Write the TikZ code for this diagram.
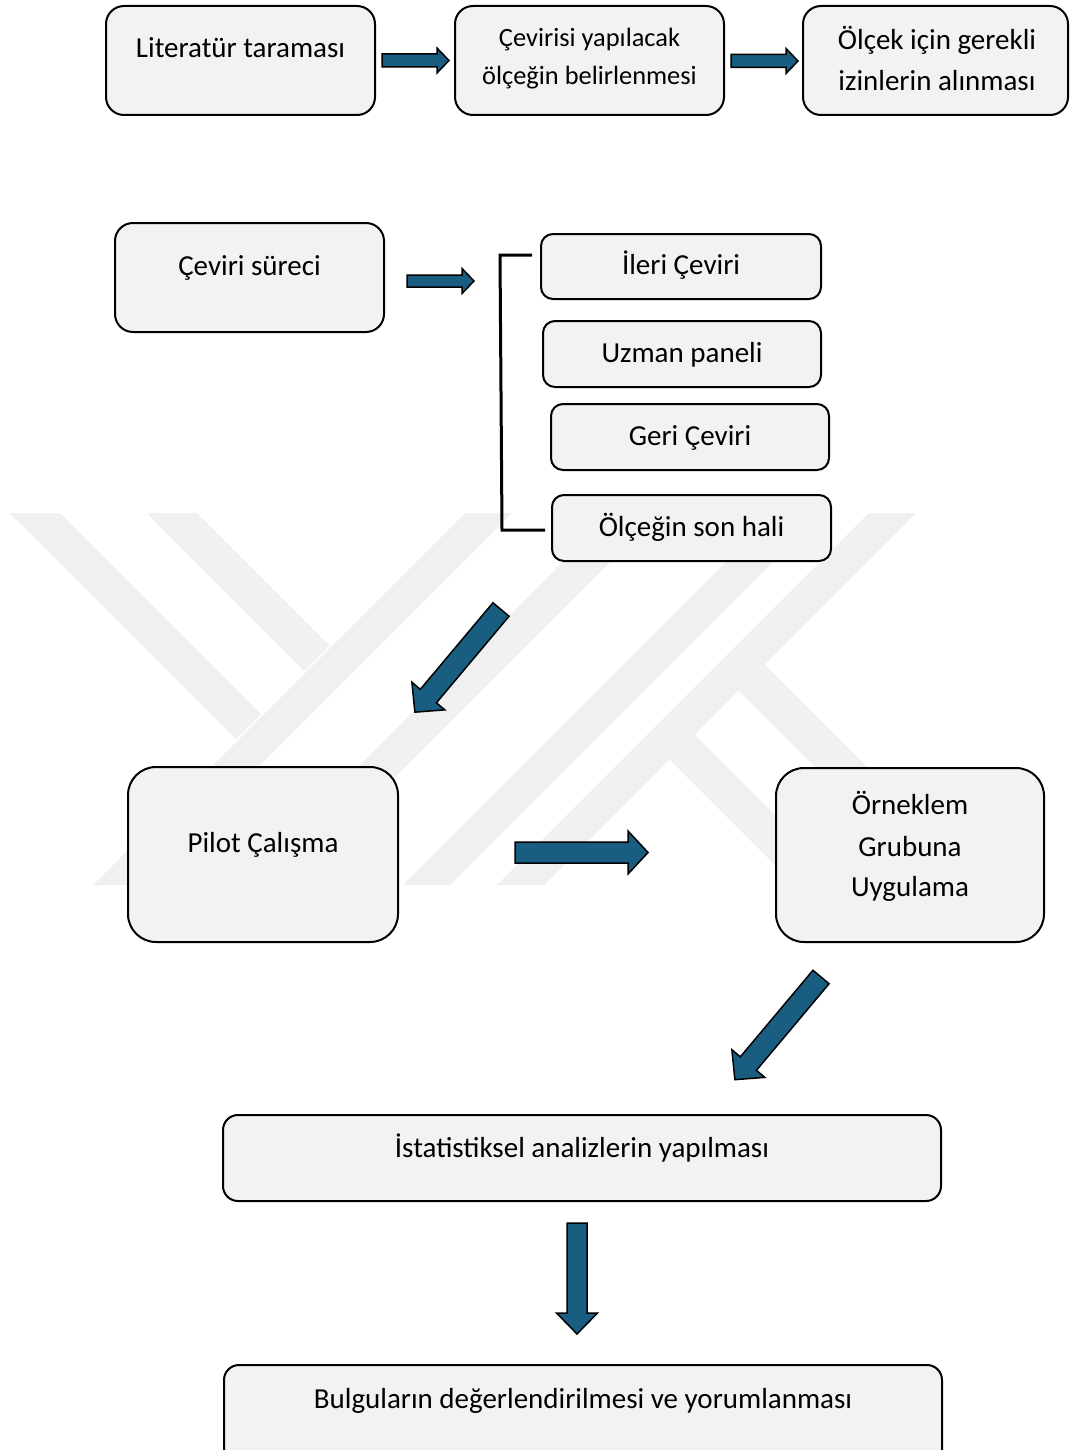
\documentclass[tikz,border=0pt]{standalone}
\usepackage{fontspec}
\setmainfont{Carlito}
\definecolor{boxfill}{RGB}{242,242,242}
\definecolor{wmgray}{RGB}{240,240,240}
\definecolor{arrowblue}{RGB}{25,94,128}
\tikzset{
  box/.style={draw=black, line width=2pt, fill=boxfill, rounded corners=#1, inner sep=0pt},
  box/.default=18pt,
  lbl/.style={font=\fontsize{29}{35}\selectfont, text height=19pt, text depth=0pt, inner sep=0pt, anchor=center},
  lblsmall/.style={font=\fontsize{26.4}{32}\selectfont, text height=17pt, text depth=0pt, inner sep=0pt, anchor=center},
  blockarrow/.style={draw=black, line width=1.5pt, fill=arrowblue, line join=miter},
  bracketline/.style={draw=black, line width=3pt},
  watermark/.style={fill=wmgray, draw=none}
}
% tail x, tail y, angle, total length, shaft width, head width, head length
\newcommand{\myblockarrow}[7]{%
  \draw[blockarrow, shift={(#1,#2)}, rotate=#3]
    (0,-#5/2) -- ({#4-#7},-#5/2) -- ({#4-#7},-#6/2) -- (#4,0) -- ({#4-#7},#6/2) -- ({#4-#7},#5/2) -- (0,#5/2) -- cycle;}
\begin{document}
\begin{tikzpicture}[x=1pt,y=-1pt]
\useasboundingbox (0,0) rectangle (1070,1450);
\clip (0,0) rectangle (1070,1450);
\fill[white] (0,0) rectangle (1070,1450);

% watermark (background logo)
\fill[watermark] (10,513) -- (60,513) -- (261,714) -- (236,739) -- cycle;
\fill[watermark] (147,513) -- (197,513) -- (329.5,645.5) -- (304.5,670.5) -- cycle;
\fill[watermark] (465,513) -- (512,513) -- (140,885) -- (93,885) -- cycle;
\fill[watermark] (612,513) -- (659,513) -- (287,885) -- (240,885) -- cycle;
\fill[watermark] (775,513) -- (822,513) -- (450,885) -- (403,885) -- cycle;
\fill[watermark] (869,513) -- (916,513) -- (544,885) -- (497,885) -- cycle;
\fill[watermark] (764.5,664.5) -- (985,885) -- (933,885) -- (738.5,690.5) -- cycle;
\fill[watermark] (694.5,734.5) -- (845,885) -- (795,885) -- (669.5,759.5) -- cycle;

% boxes
\node[box, minimum width=269pt, minimum height=109pt] (lit) at (240.5,60.5) {};
\node[lbl] (litT) at (240.5,48) {Literatür taraması};

\node[box, minimum width=269pt, minimum height=109pt] (cev) at (589.5,60.5) {};
\node[lblsmall] (cevT1) at (589.5,38) {Çevirisi yapılacak};
\node[lblsmall] (cevT2) at (589.5,76) {ölçeğin belirlenmesi};

\node[box, minimum width=265pt, minimum height=109pt] (izin) at (935.5,60.5) {};
\node[lbl] (izinT1) at (937,40) {Ölçek için gerekli};
\node[lbl] (izinT2) at (937,81) {izinlerin alınması};

\node[box, minimum width=269pt, minimum height=109pt] (surec) at (249.5,277.5) {};
\node[lbl] (surecT) at (249.5,266) {Çeviri süreci};

\node[box=12pt, minimum width=280pt, minimum height=65pt] (ileri) at (681,266.5) {};
\node[lbl] (ileriT) at (681,265) {İleri Çeviri};

\node[box=12pt, minimum width=278pt, minimum height=66pt] (uzman) at (682,354) {};
\node[lbl] (uzmanT) at (682,353) {Uzman paneli};

\node[box=12pt, minimum width=278pt, minimum height=66pt] (geri) at (690,437) {};
\node[lbl] (geriT) at (690,436) {Geri Çeviri};

\node[box=12pt, minimum width=279pt, minimum height=66pt] (son) at (691.5,528) {};
\node[lbl] (sonT) at (691.5,527) {Ölçeğin son hali};

\node[box=28pt, minimum width=270pt, minimum height=175pt] (pilot) at (263,854.5) {};
\node[lbl] (pilotT) at (263,843) {Pilot Çalışma};

\node[box=28pt, minimum width=268pt, minimum height=174pt] (orn) at (910,855) {};
\node[lbl] (ornT1) at (910,805) {Örneklem};
\node[lbl] (ornT2) at (910,847) {Grubuna};
\node[lbl] (ornT3) at (910,887) {Uygulama};

\node[box=15pt, minimum width=718pt, minimum height=86pt] (ist) at (582,1158) {};
\node[lbl] (istT) at (582,1148) {İstatistiksel analizlerin yapılması};

\node[box=15pt, minimum width=718pt, minimum height=105pt] (bul) at (583,1417.5) {};
\node[lbl] (bulT) at (583,1399) {Bulguların değerlendirilmesi ve yorumlanması};

% bracket grouping the translation steps
\coordinate (brTop) at (532,255);
\coordinate (brBot) at (545,530);
\draw[bracketline] (brTop) -- (500,255) -- (502,530) -- (brBot);

% block arrows
\myblockarrow{382}{60.5}{0}{67}{13}{25}{12}
\myblockarrow{731}{61}{0}{67}{13}{25}{12}
\myblockarrow{407}{281}{0}{67}{12}{25}{12}
\myblockarrow{501}{609.5}{230}{134}{21}{43}{21}
\myblockarrow{515}{852.5}{0}{133}{21}{43}{20}
\myblockarrow{821}{977}{230}{134}{21}{43}{21}
\myblockarrow{577}{1223}{-90}{111}{20}{41}{21}
\end{tikzpicture}
\end{document}
